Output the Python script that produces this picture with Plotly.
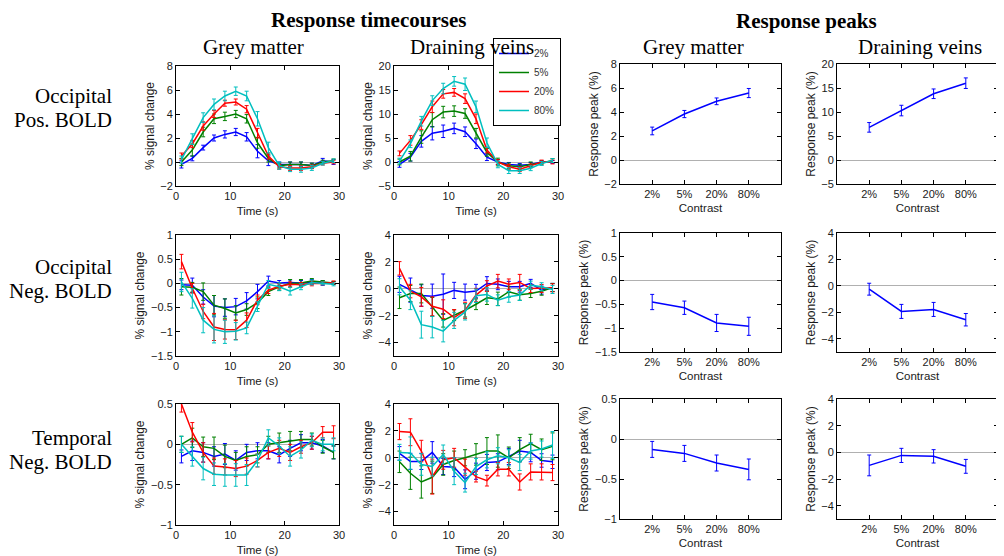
import plotly.graph_objects as go
from plotly.subplots import make_subplots

# ---------------- data ----------------
time_s = [1, 3, 5, 7, 9, 11, 13, 15, 17, 19, 21, 23, 25, 27, 29]
contrast_labels = ["2%", "5%", "20%", "80%"]
row_labels_top = ["Occipital", "Occipital", "Temporal"]
row_labels_bottom = ["Pos. BOLD", "Neg. BOLD", "Neg. BOLD"]

# Occipital positive BOLD, grey matter
opos_gm_2 = [-0.2, 0.3, 1.2, 2.0, 2.3, 2.5, 2.1, 0.9, 0.1, -0.2, -0.2, -0.2, -0.3, 0.1, 0.0]
opos_gm_5 = [0.0, 1.0, 2.5, 3.6, 3.8, 4.0, 3.6, 1.6, 0.3, -0.3, -0.2, -0.2, -0.3, 0.0, 0.1]
opos_gm_20 = [0.5, 1.5, 3.0, 4.0, 4.9, 5.0, 4.4, 2.4, 0.5, -0.4, -0.5, -0.5, -0.4, -0.1, 0.0]
opos_gm_80 = [0.2, 1.9, 3.7, 4.8, 5.5, 5.9, 5.5, 3.6, 1.2, -0.3, -0.6, -0.6, -0.5, -0.1, 0.1]
opos_gm_2_err = [0.3, 0.2, 0.2, 0.25, 0.3, 0.3, 0.35, 0.55, 0.4, 0.2, 0.2, 0.2, 0.2, 0.2, 0.2]
opos_gm_5_err = [0.3, 0.5, 0.4, 0.4, 0.35, 0.3, 0.35, 0.45, 0.3, 0.2, 0.2, 0.2, 0.2, 0.15, 0.15]
opos_gm_20_err = [0.25, 0.3, 0.35, 0.3, 0.25, 0.25, 0.3, 0.4, 0.25, 0.2, 0.2, 0.2, 0.15, 0.15, 0.15]
opos_gm_80_err = [0.3, 0.45, 0.4, 0.45, 0.4, 0.35, 0.4, 0.6, 0.45, 0.3, 0.2, 0.25, 0.2, 0.15, 0.15]

# Occipital positive BOLD, draining veins
opos_dv_2 = [-0.5, 1.0, 4.3, 6.0, 6.4, 7.0, 6.3, 3.8, 1.0, 0.0, -0.5, -0.7, -0.5, 0.0, 0.0]
opos_dv_5 = [0.0, 1.2, 5.2, 8.8, 10.4, 10.6, 10.1, 6.0, 2.0, 0.0, -0.8, -1.0, -0.5, -0.2, 0.3]
opos_dv_20 = [1.8, 4.5, 7.8, 11.5, 14.2, 14.5, 13.2, 9.0, 2.5, 0.0, -1.0, -1.5, -0.8, 0.0, 0.0]
opos_dv_80 = [0.2, 3.8, 8.5, 12.8, 15.3, 16.8, 16.2, 11.5, 4.0, -0.5, -1.8, -1.8, -1.3, -0.3, 0.3]
opos_dv_2_err = [0.6, 0.8, 1.2, 1.4, 1.3, 1.1, 1.0, 1.0, 0.7, 0.5, 0.4, 0.4, 0.4, 0.3, 0.3]
opos_dv_5_err = [0.6, 1.0, 1.3, 1.5, 1.2, 1.1, 1.0, 1.0, 0.8, 0.8, 0.6, 0.5, 0.5, 0.4, 0.4]
opos_dv_20_err = [0.5, 1.0, 1.0, 1.2, 0.9, 0.8, 1.0, 1.0, 0.6, 0.5, 0.5, 0.5, 0.4, 0.4, 0.4]
opos_dv_80_err = [0.6, 0.8, 1.0, 1.0, 1.1, 1.0, 1.3, 1.2, 1.0, 0.7, 0.6, 0.6, 0.5, 0.4, 0.4]

# Occipital negative BOLD, grey matter
oneg_gm_2 = [-0.03, -0.04, -0.28, -0.47, -0.5, -0.48, -0.36, -0.17, 0.05, 0.01, 0.02, 0.01, 0.03, 0.01, 0.01]
oneg_gm_5 = [-0.07, -0.08, -0.17, -0.45, -0.52, -0.61, -0.54, -0.4, -0.17, -0.07, 0.0, 0.01, 0.05, 0.03, 0.01]
oneg_gm_20 = [0.45, -0.1, -0.58, -0.9, -0.95, -0.96, -0.76, -0.34, -0.14, -0.06, -0.02, -0.03, 0.0, 0.0, 0.02]
oneg_gm_80 = [0.03, -0.31, -0.76, -0.95, -1.0, -0.99, -0.92, -0.48, -0.02, -0.07, -0.16, -0.07, 0.02, 0.0, -0.02]
oneg_gm_2_err = [0.1, 0.15, 0.15, 0.22, 0.18, 0.17, 0.17, 0.15, 0.1, 0.05, 0.05, 0.05, 0.05, 0.05, 0.03]
oneg_gm_5_err = [0.17, 0.1, 0.18, 0.2, 0.2, 0.15, 0.12, 0.12, 0.08, 0.07, 0.08, 0.07, 0.05, 0.03, 0.03]
oneg_gm_20_err = [0.15, 0.1, 0.15, 0.28, 0.2, 0.2, 0.15, 0.1, 0.07, 0.05, 0.05, 0.05, 0.05, 0.03, 0.03]
oneg_gm_80_err = [0.2, 0.2, 0.26, 0.28, 0.24, 0.18, 0.12, 0.1, 0.08, 0.08, 0.08, 0.06, 0.05, 0.03, 0.03]

# Occipital negative BOLD, draining veins
oneg_dv_2 = [0.33, -0.1, -0.5, -0.55, -0.4, -0.12, -0.25, -0.17, 0.4, 0.33, 0.15, 0.15, 0.4, -0.1, 0.1]
oneg_dv_5 = [-0.67, -0.35, -0.35, -1.35, -2.35, -1.97, -1.6, -1.15, -0.67, -0.75, -0.22, -0.45, -0.35, -0.18, 0.1]
oneg_dv_20 = [1.52, -0.17, -0.6, -1.3, -1.52, -2.15, -1.6, -0.47, 0.2, 0.57, 0.33, 0.47, 0.02, 0.02, 0.07]
oneg_dv_80 = [0.15, -0.85, -2.67, -2.85, -3.15, -2.35, -1.72, -0.52, -0.42, -0.85, -0.6, -0.47, 0.27, 0.15, -0.05]
oneg_dv_2_err = [0.6, 0.9, 0.8, 0.9, 1.5, 0.6, 0.6, 0.5, 0.5, 0.4, 0.4, 0.4, 0.3, 0.3, 0.3]
oneg_dv_5_err = [0.8, 0.6, 0.7, 0.7, 0.5, 0.4, 0.5, 0.4, 0.5, 0.5, 0.4, 0.4, 0.3, 0.3, 0.3]
oneg_dv_20_err = [0.5, 0.5, 0.7, 0.7, 0.7, 0.6, 0.6, 0.5, 0.4, 0.5, 0.4, 0.6, 0.3, 0.3, 0.3]
oneg_dv_80_err = [0.6, 0.7, 1.0, 0.8, 0.8, 0.6, 0.6, 0.5, 0.5, 0.4, 0.4, 0.4, 0.3, 0.3, 0.3]

# Temporal negative BOLD, grey matter
tneg_gm_2 = [-0.15, -0.08, -0.1, -0.15, -0.12, -0.2, -0.1, -0.08, -0.08, -0.13, -0.05, 0.02, 0.02, -0.02, -0.1]
tneg_gm_5 = [0.0, 0.08, -0.03, -0.05, -0.15, -0.2, -0.15, -0.13, 0.0, 0.02, 0.04, 0.06, 0.06, -0.03, -0.1]
tneg_gm_20 = [0.5, 0.15, -0.1, -0.27, -0.28, -0.3, -0.27, -0.2, -0.1, -0.05, -0.1, -0.03, 0.02, 0.15, 0.15]
tneg_gm_80 = [0.0, -0.15, -0.3, -0.37, -0.38, -0.38, -0.38, -0.2, 0.08, -0.02, -0.15, -0.07, 0.05, 0.0, 0.0]
tneg_gm_2_err = [0.08, 0.12, 0.12, 0.12, 0.13, 0.12, 0.1, 0.1, 0.1, 0.1, 0.1, 0.1, 0.08, 0.08, 0.08]
tneg_gm_5_err = [0.1, 0.12, 0.12, 0.14, 0.14, 0.1, 0.12, 0.1, 0.1, 0.12, 0.12, 0.1, 0.08, 0.08, 0.08]
tneg_gm_20_err = [0.1, 0.12, 0.12, 0.1, 0.1, 0.1, 0.1, 0.08, 0.08, 0.1, 0.1, 0.08, 0.08, 0.07, 0.08]
tneg_gm_80_err = [0.1, 0.12, 0.14, 0.14, 0.14, 0.14, 0.13, 0.08, 0.1, 0.1, 0.12, 0.1, 0.08, 0.08, 0.08]

# Temporal negative BOLD, draining veins
tneg_dv_2 = [0.33, -0.27, -0.27, 0.4, -0.65, -0.7, -1.6, -1.0, -0.35, -0.3, 0.1, 0.5, 0.4, -0.2, -0.3]
tneg_dv_5 = [-0.3, -1.15, -1.8, -1.45, -0.5, -0.2, 0.0, 0.25, 0.5, 0.5, 0.0, 0.6, 1.05, 0.6, 0.85]
tneg_dv_20 = [1.95, 1.9, 0.5, -1.4, -0.15, 0.0, -0.7, -1.4, -1.7, -0.85, -0.85, -1.8, -1.05, -1.05, -1.1]
tneg_dv_80 = [0.4, 0.35, -0.5, -0.65, 0.25, -1.0, -1.85, -0.65, -0.15, 0.15, 0.0, -0.35, 0.5, 0.65, 0.95]
tneg_dv_2_err = [0.5, 0.6, 0.6, 0.8, 0.6, 0.7, 0.7, 0.6, 0.6, 0.6, 0.6, 0.8, 0.7, 0.5, 0.5]
tneg_dv_5_err = [0.8, 1.2, 1.2, 1.2, 0.8, 0.7, 0.6, 0.8, 1.0, 1.2, 0.8, 0.9, 0.7, 0.8, 1.0]
tneg_dv_20_err = [0.6, 1.0, 0.8, 1.3, 0.7, 0.7, 0.6, 0.4, 0.4, 0.5, 0.5, 0.6, 0.6, 0.6, 0.6]
tneg_dv_80_err = [0.6, 1.2, 0.8, 0.7, 0.7, 1.0, 0.7, 0.6, 0.6, 0.6, 0.6, 0.6, 0.6, 0.6, 1.0]

# Response peaks
peak_opos_gm = [2.42, 3.83, 4.89, 5.58]
peak_opos_gm_err = [0.32, 0.3, 0.28, 0.38]
peak_opos_dv = [6.8, 10.3, 13.8, 16.0]
peak_opos_dv_err = [1.0, 1.1, 1.0, 1.1]
peak_oneg_gm = [-0.45, -0.57, -0.89, -0.96]
peak_oneg_gm_err = [0.16, 0.14, 0.18, 0.19]
peak_oneg_dv = [-0.25, -1.93, -1.78, -2.56]
peak_oneg_dv_err = [0.45, 0.53, 0.53, 0.47]
peak_tneg_gm = [-0.13, -0.18, -0.3, -0.38]
peak_tneg_gm_err = [0.1, 0.1, 0.1, 0.13]
peak_tneg_dv = [-0.98, -0.23, -0.3, -1.05]
peak_tneg_dv_err = [0.78, 0.53, 0.5, 0.52]

# axis ranges / ticks per row: (grey matter, draining veins)
row_gm_range = [[-2, 8], [-1.5, 1], [-1, 0.5]]
row_gm_dtick = [2, 0.5, 0.5]
row_dv_range = [[-5, 20], [-5, 4], [-5, 4]]
row_dv_dtick = [5, 2, 2]

# ---------------- styling ----------------
series_colors = ["#0000ff", "#008000", "#ff0000", "#00bfbf"]
W, H = 1004, 556
OFF = 8  # page body margin compensation
col_px = [(176, 339), (394, 558), (620, 781), (837, 998)]
tc_row_px = [(66, 186), (235, 356), (404, 525)]
pk_row_px = [(64, 184), (233, 352), (399, 519)]
SANS = "Liberation Sans, Arial, sans-serif"
SERIF = "Liberation Serif, Times New Roman, serif"
TXT = "#1a1a1a"


def xd(a, b):
    return [(a - OFF) / W, (b - OFF) / W]


def yd(top, bottom):
    return [1 - (bottom - OFF) / H, 1 - (top - OFF) / H]


fig = make_subplots(rows=3, cols=4)

timecourse_sets = [
    [(opos_gm_2, opos_gm_5, opos_gm_20, opos_gm_80), (opos_gm_2_err, opos_gm_5_err, opos_gm_20_err, opos_gm_80_err)],
    [(opos_dv_2, opos_dv_5, opos_dv_20, opos_dv_80), (opos_dv_2_err, opos_dv_5_err, opos_dv_20_err, opos_dv_80_err)],
    [(oneg_gm_2, oneg_gm_5, oneg_gm_20, oneg_gm_80), (oneg_gm_2_err, oneg_gm_5_err, oneg_gm_20_err, oneg_gm_80_err)],
    [(oneg_dv_2, oneg_dv_5, oneg_dv_20, oneg_dv_80), (oneg_dv_2_err, oneg_dv_5_err, oneg_dv_20_err, oneg_dv_80_err)],
    [(tneg_gm_2, tneg_gm_5, tneg_gm_20, tneg_gm_80), (tneg_gm_2_err, tneg_gm_5_err, tneg_gm_20_err, tneg_gm_80_err)],
    [(tneg_dv_2, tneg_dv_5, tneg_dv_20, tneg_dv_80), (tneg_dv_2_err, tneg_dv_5_err, tneg_dv_20_err, tneg_dv_80_err)],
]
peak_sets = [
    (peak_opos_gm, peak_opos_gm_err), (peak_opos_dv, peak_opos_dv_err),
    (peak_oneg_gm, peak_oneg_gm_err), (peak_oneg_dv, peak_oneg_dv_err),
    (peak_tneg_gm, peak_tneg_gm_err), (peak_tneg_dv, peak_tneg_dv_err),
]

for r in range(3):
    for c in range(2):
        means, errs = timecourse_sets[r * 2 + c]
        for k in range(4):
            fig.add_trace(go.Scatter(
                x=time_s, y=means[k], mode="lines", name=contrast_labels[k],
                line=dict(color=series_colors[k], width=1.5),
                error_y=dict(type="data", array=errs[k], color=series_colors[k], thickness=1, width=2),
                showlegend=(r == 0 and c == 1), legendrank=k + 1,
            ), row=r + 1, col=c + 1)
        pm, pe = peak_sets[r * 2 + c]
        fig.add_trace(go.Scatter(
            x=contrast_labels, y=pm, mode="lines",
            line=dict(color="#0000ff", width=1.5),
            error_y=dict(type="data", array=pe, color="#0000ff", thickness=1, width=2),
            showlegend=False,
        ), row=r + 1, col=c + 3)

axis_common = dict(
    showline=True, linecolor="black", linewidth=1, mirror="ticks",
    ticks="inside", ticklen=4, tickcolor="black", showgrid=False,
    tickfont=dict(family=SANS, size=11, color=TXT), automargin=False,
)

for r in range(3):
    for c in range(4):
        is_gm = c in (0, 2)
        yr = row_gm_range[r] if is_gm else row_dv_range[r]
        dt = row_gm_dtick[r] if is_gm else row_dv_dtick[r]
        rows_px = tc_row_px[r] if c < 2 else pk_row_px[r]
        if c < 2:
            fig.update_xaxes(axis_common, domain=xd(*col_px[c]), range=[0, 30], tickvals=[0, 10, 20, 30],
                             zeroline=False,
                             title=dict(text="Time (s)", font=dict(family=SANS, size=11.5, color=TXT), standoff=5),
                             row=r + 1, col=c + 1)
            ytitle = "% signal change"
        else:
            fig.update_xaxes(axis_common, domain=xd(*col_px[c]), type="category", range=[-1, 4],
                             zeroline=False,
                             title=dict(text="Contrast", font=dict(family=SANS, size=11.5, color=TXT), standoff=4),
                             row=r + 1, col=c + 1)
            ytitle = "Response peak (%)"
        fig.update_yaxes(axis_common, domain=yd(*rows_px), range=yr, dtick=dt, tick0=0,
                         zeroline=True, zerolinecolor="#b0b0b0", zerolinewidth=1,
                         title=dict(text=ytitle, font=dict(family=SANS, size=12, color=TXT), standoff=3),
                         row=r + 1, col=c + 1)

annotations = []


def ann(text, x, y, size, bold=False, xanchor="center"):
    annotations.append(dict(
        text=("<b>%s</b>" % text) if bold else text,
        x=(x - OFF) / W, y=1 - (y - OFF) / H, xref="paper", yref="paper",
        showarrow=False, xanchor=xanchor, yanchor="middle",
        font=dict(family=SERIF, size=size, color="black"),
    ))


ann("Response timecourses", 368, 20, 21, bold=True)
ann("Response peaks", 806, 21, 21, bold=True)
ann("Grey matter", 253, 47, 21)
ann("Draining veins", 472, 47, 21)
ann("Grey matter", 693, 47, 21)
ann("Draining veins", 920, 47, 21)
row_top_y = [96, 267, 438]
row_bottom_y = [120, 291, 462]
for r in range(3):
    ann(row_labels_top[r], 114, row_top_y[r], 21, xanchor="right")
    ann(row_labels_bottom[r], 114, row_bottom_y[r], 21, xanchor="right")

fig.update_layout(
    width=W, height=H, margin=dict(l=0, r=0, t=0, b=0),
    paper_bgcolor="white", plot_bgcolor="white",
    annotations=annotations,
    legend=dict(
        x=(493 - OFF) / W, y=1 - (38 - OFF) / H, xanchor="left", yanchor="top",
        bgcolor="white", bordercolor="black", borderwidth=1,
        font=dict(family=SANS, size=10, color="#333333"),
        tracegroupgap=0, itemwidth=30,
    ),
)

fig.write_html("out.html")
